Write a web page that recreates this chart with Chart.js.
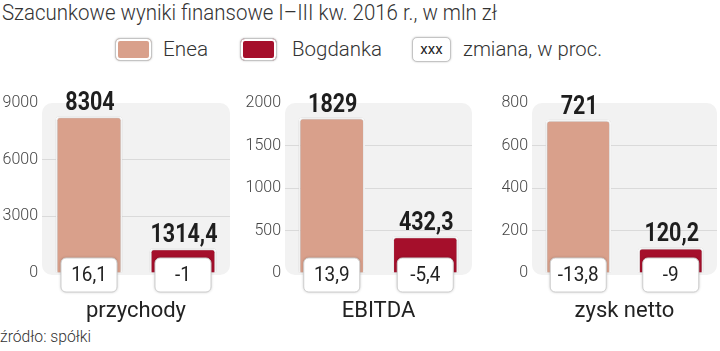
<!DOCTYPE html>
<html>
<head>
<meta charset="utf-8">
<script src="https://cdn.jsdelivr.net/npm/chart.js@4.4.1/dist/chart.umd.min.js"></script>
<style>
  html, body { margin: 0; padding: 0; background: #fff; }
  body { width: 720px; height: 351px; position: relative; overflow: hidden; font-family: Roboto, sans-serif; color: #333; }
  .txt { position: absolute; white-space: nowrap; transform-origin: 0 50%; }
  #title { left: 2px; top: 0px; font-size: 22px; font-weight: 300; color: #333; line-height: 26px; }
  .sw { position: absolute; top: 38px; width: 35px; height: 21px; border-radius: 5px; border: 1px solid #c4c4c4; box-shadow: inset 0 0 0 2px #fff, 0 0 2px rgba(0,0,0,0.25); }
  .legtxt { top: 36px; font-size: 21px; font-weight: 300; line-height: 26px; color: #333; }
  #src { left: 0; top: 327px; font-size: 16px; font-weight: 300; color: #333; line-height: 20px; }
  canvas.panel { position: absolute; top: 80px; }
</style>
</head>
<body>
<div id="title" class="txt">Szacunkowe wyniki finansowe I–III kw. 2016 r., w mln zł</div>

<div class="sw" style="left:115px;background:#d9a08b;"></div>
<div class="txt legtxt" id="l1" style="left:163px;">Enea</div>
<div class="sw" style="left:240px;background:#a50f2b;"></div>
<div class="txt legtxt" id="l2" style="left:292px;">Bogdanka</div>
<div class="sw" style="left:412px;top:37px;width:37px;height:23px;background:#fff;font-size:15px;line-height:23px;text-align:center;color:#222;">xxx</div>
<div class="txt legtxt" id="l3" style="left:463px;">zmiana, w proc.</div>

<div id="src" class="txt">źródło: spółki</div>

<canvas id="c0" class="panel" style="left:0px;" width="240" height="271"></canvas>
<canvas id="c1" class="panel" style="left:240px;" width="240" height="271"></canvas>
<canvas id="c2" class="panel" style="left:480px;" width="240" height="271"></canvas>

<script>
// dane
const metrics = ['przychody', 'EBITDA', 'zysk netto'];
const companies = ['Enea', 'Bogdanka'];
const enea = [8304, 1829, 721];
const bogdanka = [1314.4, 432.3, 120.2];
const eneaChange = [16.1, 13.9, -13.8];
const bogdankaChange = [-1, -5.4, -9];
const yMax = [9000, 2000, 800];
const yStep = [3000, 500, 200];

const colors = ['#d9a08b', '#a50f2b'];
const axisWidth = [42, 45, 52];
const rightPad = [10, 8, 3];

const fmt = v => String(v).replace('.', ',');

// squeeze html texts to the condensed widths of the original
function squeeze(id, w) {
    const el = document.getElementById(id);
    el.style.transform = `scaleX(${w / el.getBoundingClientRect().width})`;
}

const panelBg = {
    id: 'panelBg',
    beforeDraw(chart) {
        const { ctx, chartArea: a } = chart;
        ctx.save();
        ctx.fillStyle = '#f2f2f2';
        ctx.beginPath();
        ctx.roundRect(a.left, a.top, a.right - a.left, a.bottom - a.top + 2, 10);
        ctx.fill();
        ctx.restore();
    },
    beforeDatasetsDraw(chart) {
        chart.ctx.save();
        chart.ctx.shadowColor = 'rgba(0,0,0,0.25)';
        chart.ctx.shadowBlur = 3;
    },
    afterDatasetsDraw(chart) {
        chart.ctx.restore();
        const { ctx, chartArea: a } = chart;
        const meta = chart.getDatasetMeta(0);
        const changes = chart.options.plugins.panelBg.changes;
        meta.data.forEach((bar, i) => {
            const v = chart.data.datasets[0].data[i];
            // value above the bar
            ctx.save();
            ctx.fillStyle = '#1e1e1e';
            ctx.font = 'bold 25px Roboto';
            ctx.textAlign = 'center';
            ctx.textBaseline = 'alphabetic';
            ctx.translate(bar.x + 1, bar.y - 6);
            ctx.scale(0.86, 1);
            ctx.fillText(fmt(v), 0, 0);
            ctx.restore();

            // change box at the bottom
            const bw = 56, bh = 34;
            const bx = bar.x - bw / 2, by = a.bottom - 15;
            ctx.save();
            ctx.shadowColor = 'rgba(0,0,0,0.3)';
            ctx.shadowBlur = 3;
            ctx.fillStyle = '#fff';
            ctx.strokeStyle = '#cfcfcf';
            ctx.lineWidth = 1;
            ctx.beginPath();
            ctx.roundRect(bx, by, bw, bh, 5);
            ctx.fill();
            ctx.shadowColor = 'transparent';
            ctx.stroke();
            ctx.fillStyle = '#222';
            ctx.font = '21px Roboto';
            ctx.textAlign = 'center';
            ctx.textBaseline = 'middle';
            ctx.translate(bar.x, by + bh / 2 + 1);
            ctx.scale(0.9, 1);
            ctx.fillText(fmt(changes[i]), 0, 0);
            ctx.restore();
        });

        // category name under the panel
        ctx.save();
        ctx.fillStyle = '#222';
        ctx.font = '22px Roboto';
        ctx.textAlign = 'center';
        ctx.textBaseline = 'middle';
        ctx.fillText(chart.options.plugins.panelBg.name, (a.left + a.right) / 2, a.bottom + 38);
        ctx.restore();
    }
};

metrics.forEach((name, k) => {
    new Chart(document.getElementById('c' + k), {
        type: 'bar',
        data: {
            labels: companies,
            datasets: [{
                data: [enea[k], bogdanka[k]],
                backgroundColor: colors,
                borderColor: '#ffffff',
                borderWidth: 2,
                borderRadius: { topLeft: 4, topRight: 4 },
                borderSkipped: 'bottom',
                barPercentage: 0.71,
                categoryPercentage: 1
            }]
        },
        options: {
            responsive: false,
            animation: false,
            layout: { padding: { top: 23, bottom: 78, right: rightPad[k], left: 0 } },
            plugins: {
                legend: { display: false },
                tooltip: { enabled: false },
                panelBg: { name: name, changes: [eneaChange[k], bogdankaChange[k]] }
            },
            scales: {
                x: {
                    grid: { display: false, drawTicks: false },
                    border: { display: false },
                    ticks: { display: false },
                    afterFit: s => { s.height = 0; }
                },
                y: {
                    min: 0, max: yMax[k],
                    grid: {
                        drawTicks: false,
                        color: c => (c.tick.value === 0 || c.tick.value === yMax[k]) ? 'rgba(0,0,0,0)' : '#dadada'
                    },
                    border: { display: false },
                    ticks: {
                        stepSize: yStep[k], padding: 4, color: '#444',
                        font: { family: 'Roboto', size: 16, weight: '300' },
                        callback: v => String(v)
                    },
                    afterFit: s => { s.width = axisWidth[k]; }
                }
            }
        },
        plugins: [panelBg]
    });
});

document.fonts.ready.then(() => {
    squeeze('title', 495);
    squeeze('l1', 45);
    squeeze('l2', 90);
    squeeze('l3', 139);
    squeeze('src', 91);
});
</script>
</body>
</html>
